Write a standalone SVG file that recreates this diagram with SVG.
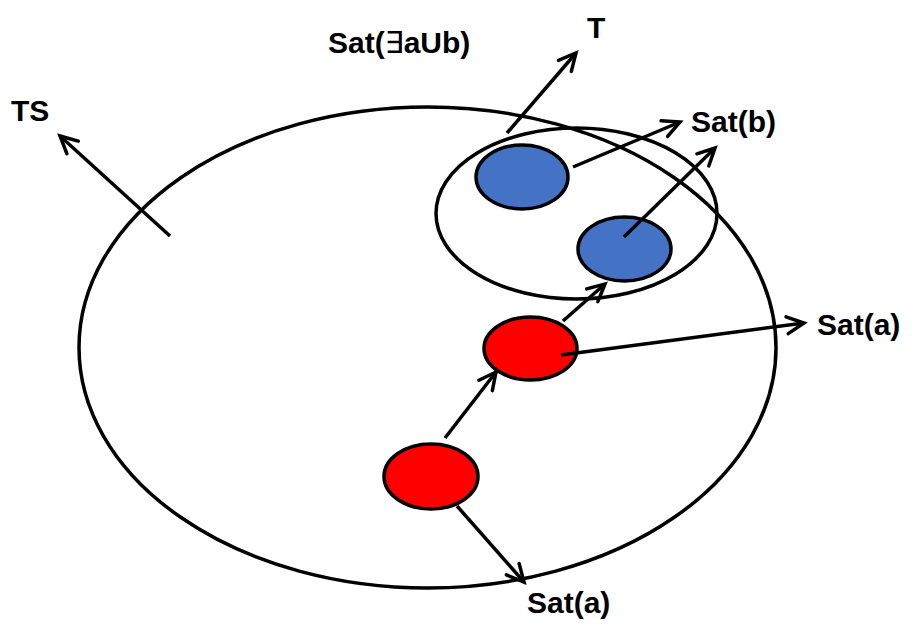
<svg xmlns="http://www.w3.org/2000/svg" width="919" height="641" viewBox="0 0 919 641">
<style>
.set{fill:none;stroke:#000;stroke-width:3.5}
.blue{fill:#4472C4;stroke:#000;stroke-width:3.5}
.red{fill:#FF0000;stroke:#000;stroke-width:3.5}
.edge{fill:none;stroke:#000;stroke-width:3.5;marker-end:url(#arr)}
text{font-family:"Liberation Sans",Arial,"DejaVu Sans",sans-serif;font-weight:bold;font-size:30px;fill:#000}
.ex{font-weight:normal}
</style>
<defs>
<marker id="arr" markerUnits="userSpaceOnUse" viewBox="-22 -12 26 24" refX="0" refY="0" markerWidth="26" markerHeight="24" orient="auto" overflow="visible">
<path d="M-17,-8.5 L0,0 L-17,8.5" fill="none" stroke="#000" stroke-width="3.5" stroke-linecap="round" stroke-linejoin="miter"/>
</marker>
</defs>
<rect width="919" height="641" fill="#fff"/>
<g id="TS"><ellipse class="set" cx="427.5" cy="347.5" rx="348.5" ry="240.5"/></g>
<g id="SatEaUb"><ellipse class="set" cx="576.5" cy="213.5" rx="140.5" ry="85.5"/></g>
<g id="b1"><ellipse class="blue" cx="522" cy="177" rx="46" ry="32"/></g>
<g id="b2"><ellipse class="blue" cx="624.5" cy="249" rx="46.5" ry="32"/></g>
<g id="r1"><ellipse class="red" cx="530.5" cy="348.5" rx="46.5" ry="31.5"/></g>
<g id="r2"><ellipse class="red" cx="431" cy="476.5" rx="47" ry="32.5"/></g>
<g id="connectors">
<line class="edge" x1="170" y1="236" x2="60" y2="136"/>
<line class="edge" x1="507" y1="133" x2="576" y2="53"/>
<line class="edge" x1="573" y1="167" x2="680" y2="122"/>
<line class="edge" x1="624" y1="237" x2="715" y2="148"/>
<line class="edge" x1="563" y1="321" x2="605" y2="284"/>
<line class="edge" x1="445" y1="438" x2="496" y2="372"/>
<line class="edge" x1="561" y1="355" x2="804" y2="323"/>
<line class="edge" x1="457" y1="506" x2="524" y2="582"/>
</g>
<g id="labels">
<text x="328" y="53">Sat(<tspan class="ex">∃</tspan>aUb)</text>
<text x="587" y="38">T</text>
<text x="691" y="132">Sat(b)</text>
<text x="11" y="121">TS</text>
<text x="817" y="335">Sat(a)</text>
<text x="527" y="613">Sat(a)</text>
</g>
</svg>
